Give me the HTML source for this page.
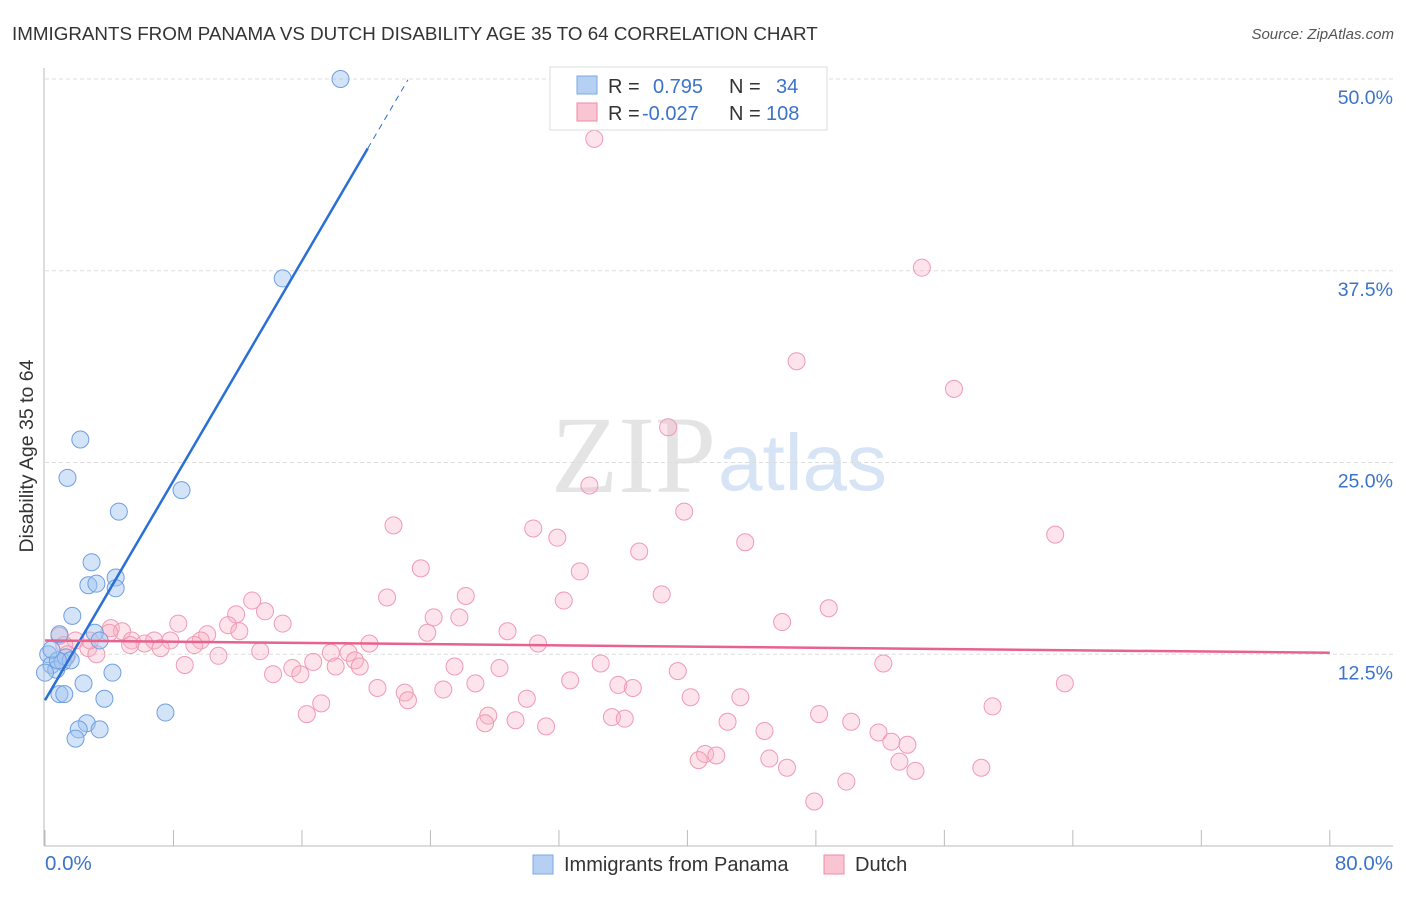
<!DOCTYPE html>
<html><head><meta charset="utf-8"><style>
body{margin:0;background:#fff;font-family:"Liberation Sans",sans-serif}
</style></head><body>
<svg id="c" width="1406" height="892" xmlns="http://www.w3.org/2000/svg" font-family="Liberation Sans, sans-serif">
<text x="12" y="40" font-size="18.8" fill="#333">IMMIGRANTS FROM PANAMA VS DUTCH DISABILITY AGE 35 TO 64 CORRELATION CHART</text>
<text x="1394" y="39" font-size="15" fill="#555" font-style="italic" text-anchor="end">Source: ZipAtlas.com</text>
<text x="716" y="492" font-size="110" fill="#e4e4e4" text-anchor="end" font-family="Liberation Serif, serif">ZIP</text>
<text x="718" y="490" font-size="80" fill="#d6e4f5">atlas</text>
<g id="grid"></g><g id="axes"></g><g id="pts"></g><g id="trends"></g>
<text transform="translate(33,456) rotate(-90)" font-size="19.5" fill="#333" text-anchor="middle">Disability Age 35 to 64</text>
<text x="45" y="870" font-size="20.5" fill="#3b73c9">0.0%</text>
<text x="1393" y="870" font-size="20.5" fill="#3b73c9" text-anchor="end">80.0%</text>
<g>
<rect x="550" y="67" width="277" height="63" fill="#fff" stroke="#ddd"/>
<rect x="577" y="76" width="20" height="18" fill="#b5d0f3" stroke="#7aa7e6"/>
<rect x="577" y="103" width="20" height="18" fill="#f9c5d3" stroke="#f08aa8"/>
<text x="608" y="93" font-size="20" fill="#333">R = <tspan fill="#3b73c9" x="653">0.795</tspan><tspan x="729" fill="#333">N = </tspan><tspan fill="#3b73c9" x="776">34</tspan></text>
<text x="608" y="120" font-size="20" fill="#333">R = <tspan fill="#3b73c9" x="642">-0.027</tspan><tspan x="729" fill="#333">N = </tspan><tspan fill="#3b73c9" x="766">108</tspan></text>
</g>
<g>
<rect x="533" y="855" width="20" height="19" fill="#b5d0f3" stroke="#7aa7e6"/>
<text x="564" y="871" font-size="20" fill="#333">Immigrants from Panama</text>
<rect x="824" y="855" width="20" height="19" fill="#f9c5d3" stroke="#f08aa8"/>
<text x="855" y="871" font-size="20" fill="#333">Dutch</text>
</g>
</svg>
<script>
const yTicks=[12.5,25,37.5,50];
const yTickLabels=["12.5%","25.0%","37.5%","50.0%"];
const xTicks=[0,8,16,24,32,40,48,56,64,72,80];
const panamaX=[18.4,14.8,2.2,1.4,8.5,4.6,2.9,2.7,3.2,4.4,4.4,1.7,0.9,3.1,3.4,0.2,0.4,0.7,1.1,1.3,1.6,0.0,4.2,2.4,0.9,1.2,3.7,7.5,2.6,2.1,3.4,1.9,0.8,0.4];
const panamaY=[50.0,37.0,26.5,24.0,23.2,21.8,18.5,17.0,17.1,17.5,16.8,15.0,13.8,13.9,13.4,12.5,11.8,11.5,12.0,12.3,12.1,11.3,11.3,10.6,9.9,9.9,9.6,8.7,8.0,7.6,7.6,7.0,12.1,12.8];
const dutchX=[34.2,54.6,46.8,56.6,38.8,33.9,39.8,21.7,30.4,62.9,31.9,43.6,37.0,23.4,33.3,21.3,26.2,32.3,38.4,12.9,48.8,13.7,11.9,24.2,25.8,45.9,8.3,14.8,11.4,10.1,12.1,23.8,28.8,4.1,4.8,5.4,6.2,6.8,7.8,9.7,9.3,7.2,30.7,20.2,13.4,17.8,18.9,10.8,8.7,19.3,19.6,16.7,15.4,18.1,25.5,28.3,34.6,39.4,52.2,14.2,15.9,20.7,22.4,22.6,24.8,26.8,30.0,32.7,35.7,36.6,40.2,43.3,63.5,17.2,16.3,27.6,27.4,29.3,31.2,35.3,36.1,42.5,48.2,50.2,44.8,51.9,52.7,53.7,59.0,41.1,41.8,40.7,45.1,46.2,53.2,54.2,58.3,47.9,49.9,0.9,1.9,2.7,3.2,1.2,4.0,2.8,5.3,1.4];
const dutchY=[46.1,37.7,31.6,29.8,27.3,23.5,21.8,20.9,20.7,20.3,20.1,19.8,19.2,18.1,17.9,16.2,16.3,16.0,16.4,16.0,15.5,15.3,15.1,14.9,14.9,14.6,14.5,14.5,14.4,13.8,14.0,13.9,14.0,14.2,14.0,13.4,13.2,13.4,13.4,13.4,13.1,12.9,13.2,13.2,12.7,12.6,12.6,12.4,11.8,12.1,11.7,12.0,11.6,11.7,11.7,11.6,11.9,11.4,11.9,11.2,11.2,10.3,10.0,9.5,10.2,10.6,9.6,10.8,10.5,10.3,9.7,9.7,10.6,9.3,8.6,8.5,8.0,8.2,7.8,8.4,8.3,8.1,8.6,8.1,7.5,7.4,6.8,6.6,9.1,6.0,5.9,5.6,5.7,5.1,5.5,4.9,5.1,2.9,4.2,13.7,13.4,12.9,12.5,13.1,13.9,13.4,13.1,12.5];
const panamaTrend=[9.5,1.79]; // intercept, slope
const dutchTrend=[13.4,-0.01];
const X=v=>45+v*16.06, Y=v=>846-v*15.34;
const NS="http://www.w3.org/2000/svg";
function mk(p,t,a){const e=document.createElementNS(NS,t);for(const k in a)e.setAttribute(k,a[k]);p.appendChild(e);return e;}
const grid=document.getElementById('grid'),axes=document.getElementById('axes'),pts=document.getElementById('pts'),tr=document.getElementById('trends');
yTicks.forEach((t,i)=>{
 const l=mk(grid,'line',{x1:45,x2:1393,y1:Y(t),y2:Y(t),stroke:'#ddd','stroke-dasharray':'4,3'});
 
 
 const tx=mk(grid,'text',{x:1393,y:Y(t)+25,'font-size':19.5,fill:'#3b73c9','text-anchor':'end'});
 tx.textContent=yTickLabels[i];
 
 
});
const ya=mk(axes,'line',{x1:44,x2:44,y1:68,y2:846,stroke:'#bbb'});


const xa=mk(axes,'line',{x1:44,x2:1393,y1:846,y2:846,stroke:'#bbb'});


xTicks.forEach(t=>{
 const l=mk(axes,'line',{x1:X(t),x2:X(t),y1:830,y2:846,stroke:'#bbb'});
 
 
});
dutchX.forEach((x,i)=>{
 const c=mk(pts,'circle',{cx:X(x),cy:Y(dutchY[i]),r:8.5,fill:'rgba(248,175,198,0.35)',stroke:'#f09ab3','stroke-width':1});
 
 
});
panamaX.forEach((x,i)=>{
 const c=mk(pts,'circle',{cx:X(x),cy:Y(panamaY[i]),r:8.5,fill:'rgba(160,195,240,0.45)',stroke:'#6f9fe0','stroke-width':1});
 
 
});
const pf=x=>panamaTrend[0]+panamaTrend[1]*x, df=x=>dutchTrend[0]+dutchTrend[1]*x;
const b1=mk(tr,'line',{x1:X(0),y1:Y(pf(0)),x2:X(20.1),y2:Y(pf(20.1)),stroke:'#2a6fd6','stroke-width':2.5});


const b2=mk(tr,'line',{x1:X(20.1),y1:Y(pf(20.1)),x2:X(22.6),y2:Y(pf(22.6)),stroke:'#2a6fd6','stroke-width':1,'stroke-dasharray':'6,5'});


const d1=mk(tr,'line',{x1:X(0),y1:Y(df(0)),x2:X(80),y2:Y(df(80)),stroke:'#e8628e','stroke-width':2.5});


</script>
</body></html>
